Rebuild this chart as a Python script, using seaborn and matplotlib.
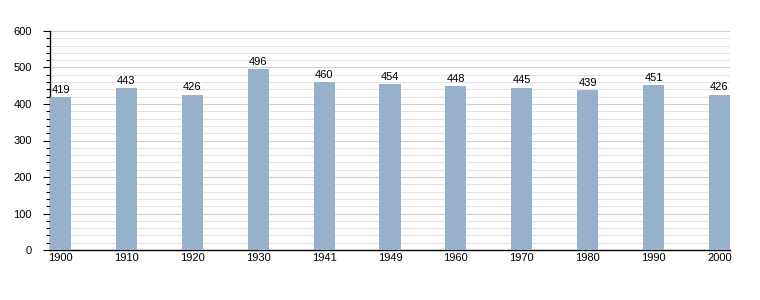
import matplotlib
matplotlib.use("Agg")
import matplotlib.pyplot as plt
import seaborn as sns
import pandas as pd
from matplotlib.ticker import MultipleLocator

years = ["1900", "1910", "1920", "1930", "1941", "1949", "1960", "1970", "1980", "1990", "2000"]
population = [419, 443, 426, 496, 460, 454, 448, 445, 439, 451, 426]

df = pd.DataFrame({"year": years, "pop": population})

sns.set_theme(style="white")
plt.rcParams["font.family"] = ["Liberation Sans", "DejaVu Sans"]

fig = plt.figure(figsize=(7.6, 3.0), dpi=100)
ax = fig.add_axes([50/760, 50/300, 680/760, 219/300])

bw = 0.32
sns.barplot(data=df, x="year", y="pop", color="#97b1cc", width=bw, saturation=1,
            ax=ax, zorder=3, order=years, linewidth=0, edgecolor="none")

ax.set_ylim(0, 600)
ax.set_xlim(-bw/2, len(years) - 1 + bw/2)
ax.yaxis.set_major_locator(MultipleLocator(100))
ax.yaxis.set_minor_locator(MultipleLocator(20))
ax.grid(True, which="minor", axis="y", color="#e3e3e3", linewidth=0.8, zorder=0)
ax.grid(True, which="major", axis="y", color="#cfcfcf", linewidth=0.8, zorder=0)
ax.set_axisbelow(True)

for s in ["top", "right"]:
    ax.spines[s].set_visible(False)
for s in ["left", "bottom"]:
    ax.spines[s].set_visible(True)
    ax.spines[s].set_color("black")
    ax.spines[s].set_linewidth(1)

ax.tick_params(axis="y", which="major", left=True, length=5, width=0.8, color="black",
               labelsize=8, pad=8, labelcolor="black")
ax.tick_params(axis="y", which="minor", left=True, length=3, width=0.8, color="black")
ax.tick_params(axis="x", bottom=False, length=0, labelsize=8, pad=2, labelcolor="black")
ax.set_xlabel("")
ax.set_ylabel("")

for i, v in enumerate(population):
    ax.text(i, v + 6, str(v), ha="center", va="bottom", fontsize=8, color="black")

fig.savefig("out.png", dpi=100)
